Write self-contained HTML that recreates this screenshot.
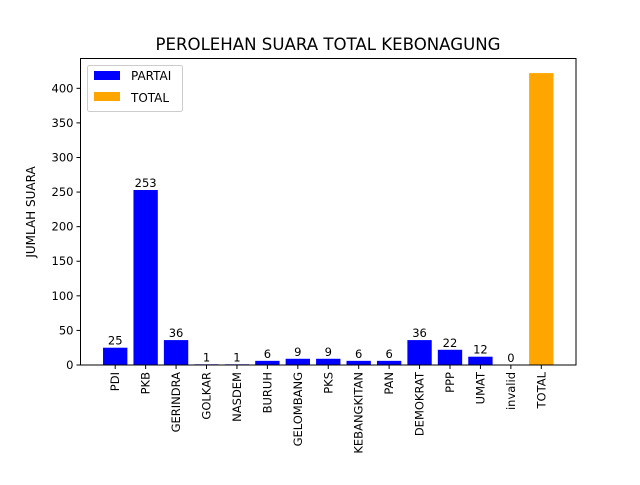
<!DOCTYPE html>
<html><head><meta charset="utf-8"><style>
body{margin:0;background:#fff;font-family:"Liberation Sans","DejaVu Sans",sans-serif}
</style></head><body>
<svg id="chart" width="640" height="480" xmlns="http://www.w3.org/2000/svg" font-family="DejaVu Sans, Liberation Sans, sans-serif">
<rect width="640" height="480" fill="#fff"/>
<text x="328" y="50" text-anchor="middle" font-size="16.6">PEROLEHAN SUARA TOTAL KEBONAGUNG</text>
<text transform="translate(35,212) rotate(-90)" text-anchor="middle" font-size="12">JUMLAH SUARA</text>
<g id="plot"></g>
<rect x="80.5" y="58.5" width="495.5" height="306.5" fill="none" stroke="#000" stroke-width="1"/>
<g>
<rect x="87.5" y="65.5" width="95" height="46" rx="2" fill="#fff" stroke="#ccc"/>
<g><rect x="94" y="71" width="26" height="9" fill="#0000ff"/><text x="131" y="80" font-size="12">PARTAI</text></g>
<g><rect x="94" y="92" width="26" height="9" fill="#ffa500"/><text x="131" y="102" font-size="12">TOTAL</text></g>
</g>
</svg>
<script>
const categories=["PDI","PKB","GERINDRA","GOLKAR","NASDEM","BURUH","GELOMBANG","PKS","KEBANGKITAN","PAN","DEMOKRAT","PPP","UMAT","invalid","TOTAL"];
const values=[25,253,36,1,1,6,9,9,6,6,36,22,12,0,422];
const yTicks=[0,50,100,150,200,250,300,350,400];
const NS="http://www.w3.org/2000/svg";
const L=80.5,R=576,T=58.5,B=365;
const xmin=-1.14,xmax=15.14,ymax=443.1;
const x=v=>L+(v-xmin)/(xmax-xmin)*(R-L);
const y=v=>B-v/ymax*(B-T);
const g=document.getElementById('plot');
function mk(t,a){const e=document.createElementNS(NS,t);for(const k in a)e.setAttribute(k,a[k]);g.appendChild(e);return e;}
const bw=(x(0.8)-x(0));
categories.forEach((c,i)=>{
 const v=values[i];const isT=c==="TOTAL";
 const r=mk('rect',{x:x(i)-bw/2,y:y(v),width:bw,height:B-y(v),fill:isT?'#ffa500':'#0000ff'});
 
 
 if(!isT){const t=mk('text',{x:x(i),y:y(v)-3,'text-anchor':'middle','font-size':11.5});t.textContent=v;
 
 }
 mk('line',{x1:x(i),x2:x(i),y1:B,y2:B+4,stroke:'#000'});
 const l=mk('text',{transform:`translate(${x(i)+4},${B+7}) rotate(-90)`,'text-anchor':'end','font-size':11.5});l.textContent=c;
 
 
});
yTicks.forEach(v=>{
 mk('line',{x1:L-4,x2:L,y1:y(v),y2:y(v),stroke:'#000'});
 const t=mk('text',{x:L-7,y:y(v)+4,'text-anchor':'end','font-size':11.5});t.textContent=v;
 
 
});
</script>
</body></html>
